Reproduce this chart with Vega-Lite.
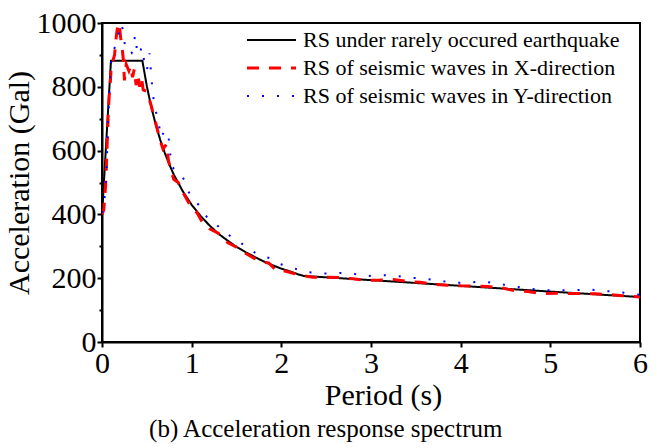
{
  "$schema": "https://vega.github.io/schema/vega-lite/v6.json",
  "width": 538,
  "height": 319,
  "autosize": {"type": "none"},
  "padding": {"left": 102, "top": 23, "right": 17, "bottom": 106},
  "background": "white",
  "config": {
    "view": {"stroke": "black", "strokeWidth": 2},
    "font": "Liberation Serif, Times New Roman, Times, serif",
    "axis": {
      "domainColor": "black", "domainWidth": 2, "tickColor": "black", "tickWidth": 2,
      "labelColor": "black", "titleColor": "black",
      "labelFont": "Liberation Serif, Times New Roman, Times, serif", "titleFont": "Liberation Serif, Times New Roman, Times, serif",
      "labelFontSize": 30, "titleFontSize": 30, "titleFontWeight": "normal",
      "grid": false, "labelOverlap": false, "labelFlush": false
    }
  },
  "title": {
    "text": "(b) Acceleration response spectrum",
    "orient": "bottom", "anchor": "middle", "frame": "bounds",
    "fontSize": 25, "font": "Liberation Serif, Times New Roman, Times, serif", "fontWeight": "normal", "color": "black", "offset": 7
  },
  "data": {"values": [
    {"s":"design","T":0,"a":397},{"s":"design","T":0.1,"a":882},{"s":"design","T":0.45,"a":882},
    {"s":"design","T":0.5,"a":802},{"s":"design","T":0.55,"a":736},{"s":"design","T":0.6,"a":681},
    {"s":"design","T":0.65,"a":633},{"s":"design","T":0.7,"a":593},{"s":"design","T":0.75,"a":557},
    {"s":"design","T":0.8,"a":525},{"s":"design","T":0.9,"a":473},{"s":"design","T":1.0,"a":430},
    {"s":"design","T":1.1,"a":395},{"s":"design","T":1.2,"a":365},{"s":"design","T":1.3,"a":339},
    {"s":"design","T":1.4,"a":318},{"s":"design","T":1.5,"a":298},{"s":"design","T":1.6,"a":282},
    {"s":"design","T":1.7,"a":267},{"s":"design","T":1.8,"a":253},{"s":"design","T":1.9,"a":241},
    {"s":"design","T":2.0,"a":230},{"s":"design","T":2.1,"a":221},{"s":"design","T":2.2,"a":211},
    {"s":"design","T":2.25,"a":207},{"s":"design","T":3,"a":194},{"s":"design","T":4,"a":176},
    {"s":"design","T":5,"a":158},{"s":"design","T":6,"a":141},

    {"s":"X","T":0,"a":400},{"s":"X","T":0.02,"a":415},{"s":"X","T":0.04,"a":490},{"s":"X","T":0.05,"a":560},
    {"s":"X","T":0.06,"a":640},{"s":"X","T":0.07,"a":720},{"s":"X","T":0.08,"a":770},{"s":"X","T":0.09,"a":800},
    {"s":"X","T":0.1,"a":850},{"s":"X","T":0.12,"a":880},{"s":"X","T":0.14,"a":900},{"s":"X","T":0.16,"a":960},
    {"s":"X","T":0.175,"a":990},{"s":"X","T":0.19,"a":1000},{"s":"X","T":0.21,"a":950},{"s":"X","T":0.225,"a":920},
    {"s":"X","T":0.24,"a":880},{"s":"X","T":0.25,"a":820},{"s":"X","T":0.27,"a":870},{"s":"X","T":0.3,"a":850},
    {"s":"X","T":0.32,"a":865},{"s":"X","T":0.34,"a":830},{"s":"X","T":0.36,"a":855},{"s":"X","T":0.38,"a":805},
    {"s":"X","T":0.4,"a":840},{"s":"X","T":0.42,"a":800},{"s":"X","T":0.44,"a":830},{"s":"X","T":0.46,"a":790},
    {"s":"X","T":0.5,"a":785},{"s":"X","T":0.55,"a":740},{"s":"X","T":0.58,"a":705},{"s":"X","T":0.6,"a":685},
    {"s":"X","T":0.65,"a":630},{"s":"X","T":0.68,"a":605},{"s":"X","T":0.72,"a":620},{"s":"X","T":0.74,"a":570},
    {"s":"X","T":0.76,"a":548},{"s":"X","T":0.8,"a":510},{"s":"X","T":0.85,"a":500},{"s":"X","T":0.9,"a":470},
    {"s":"X","T":0.95,"a":445},{"s":"X","T":1.0,"a":420},{"s":"X","T":1.06,"a":405},{"s":"X","T":1.12,"a":375},
    {"s":"X","T":1.2,"a":355},{"s":"X","T":1.3,"a":340},{"s":"X","T":1.4,"a":312},{"s":"X","T":1.5,"a":297},
    {"s":"X","T":1.6,"a":278},{"s":"X","T":1.7,"a":262},{"s":"X","T":1.8,"a":250},{"s":"X","T":1.86,"a":248},
    {"s":"X","T":1.94,"a":225},{"s":"X","T":2.0,"a":225},{"s":"X","T":2.1,"a":218},{"s":"X","T":2.2,"a":210},
    {"s":"X","T":2.35,"a":203},{"s":"X","T":2.5,"a":203},{"s":"X","T":2.65,"a":202},{"s":"X","T":2.8,"a":198},
    {"s":"X","T":2.95,"a":193},{"s":"X","T":3.1,"a":194},{"s":"X","T":3.25,"a":196},{"s":"X","T":3.4,"a":190},
    {"s":"X","T":3.55,"a":187},{"s":"X","T":3.7,"a":181},{"s":"X","T":3.85,"a":178},{"s":"X","T":4.0,"a":176},
    {"s":"X","T":4.15,"a":175},{"s":"X","T":4.3,"a":174},{"s":"X","T":4.45,"a":170},{"s":"X","T":4.6,"a":161},
    {"s":"X","T":4.75,"a":158},{"s":"X","T":4.9,"a":152},{"s":"X","T":5.05,"a":153},{"s":"X","T":5.2,"a":152},
    {"s":"X","T":5.35,"a":152},{"s":"X","T":5.5,"a":151},{"s":"X","T":5.65,"a":149},{"s":"X","T":5.8,"a":145},
    {"s":"X","T":6.0,"a":141},

    {"s":"Y","T":0,"a":405},{"s":"Y","T":0.02,"a":430},{"s":"Y","T":0.04,"a":480},{"s":"Y","T":0.05,"a":530},
    {"s":"Y","T":0.06,"a":620},{"s":"Y","T":0.07,"a":700},{"s":"Y","T":0.08,"a":770},{"s":"Y","T":0.09,"a":830},
    {"s":"Y","T":0.1,"a":870},{"s":"Y","T":0.11,"a":905},{"s":"Y","T":0.13,"a":915},{"s":"Y","T":0.145,"a":925},
    {"s":"Y","T":0.18,"a":960},{"s":"Y","T":0.2,"a":985},{"s":"Y","T":0.22,"a":998},{"s":"Y","T":0.25,"a":940},
    {"s":"Y","T":0.27,"a":915},{"s":"Y","T":0.29,"a":905},{"s":"Y","T":0.31,"a":905},{"s":"Y","T":0.33,"a":905},
    {"s":"Y","T":0.35,"a":930},{"s":"Y","T":0.37,"a":962},{"s":"Y","T":0.38,"a":950},{"s":"Y","T":0.39,"a":905},
    {"s":"Y","T":0.42,"a":900},{"s":"Y","T":0.44,"a":925},{"s":"Y","T":0.46,"a":895},{"s":"Y","T":0.48,"a":870},
    {"s":"Y","T":0.5,"a":850},{"s":"Y","T":0.53,"a":905},{"s":"Y","T":0.55,"a":830},{"s":"Y","T":0.57,"a":773},
    {"s":"Y","T":0.59,"a":727},{"s":"Y","T":0.61,"a":715},{"s":"Y","T":0.635,"a":681},{"s":"Y","T":0.66,"a":640},
    {"s":"Y","T":0.7,"a":665},{"s":"Y","T":0.74,"a":647},{"s":"Y","T":0.76,"a":598},{"s":"Y","T":0.77,"a":550},
    {"s":"Y","T":0.82,"a":540},{"s":"Y","T":0.87,"a":532},{"s":"Y","T":0.93,"a":501},{"s":"Y","T":0.98,"a":461},
    {"s":"Y","T":1.09,"a":426},{"s":"Y","T":1.15,"a":397},{"s":"Y","T":1.26,"a":371},{"s":"Y","T":1.38,"a":342},
    {"s":"Y","T":1.53,"a":313},{"s":"Y","T":1.62,"a":298},{"s":"Y","T":1.73,"a":275},{"s":"Y","T":1.88,"a":262},
    {"s":"Y","T":1.98,"a":245},{"s":"Y","T":2.12,"a":233},{"s":"Y","T":2.26,"a":220},{"s":"Y","T":2.43,"a":215},
    {"s":"Y","T":2.59,"a":215},{"s":"Y","T":2.76,"a":218},{"s":"Y","T":2.91,"a":206},{"s":"Y","T":3.07,"a":209},
    {"s":"Y","T":3.24,"a":209},{"s":"Y","T":3.41,"a":202},{"s":"Y","T":3.57,"a":199},{"s":"Y","T":3.74,"a":194},
    {"s":"Y","T":3.91,"a":185},{"s":"Y","T":4.08,"a":186},{"s":"Y","T":4.25,"a":190},{"s":"Y","T":4.41,"a":183},
    {"s":"Y","T":4.58,"a":175},{"s":"Y","T":4.75,"a":168},{"s":"Y","T":4.92,"a":162},{"s":"Y","T":5.09,"a":162},
    {"s":"Y","T":5.25,"a":162},{"s":"Y","T":5.42,"a":165},{"s":"Y","T":5.59,"a":160},{"s":"Y","T":5.76,"a":157},
    {"s":"Y","T":5.93,"a":150},{"s":"Y","T":6.0,"a":148}
  ]},
  "mark": {"type": "line", "clip": true},
  "encoding": {
    "x": {
      "field": "T", "type": "quantitative",
      "scale": {"domain": [0, 6], "nice": false},
      "axis": {
        "title": "Period (s)", "format": "d", "titleX": 281,
        "values": [0,0.5,1,1.5,2,2.5,3,3.5,4,4.5,5,5.5,6],
        "labelExpr": "datum.value % 1 === 0 ? datum.label : ''",
        "tickSize": {"condition": {"test": "datum.value % 1 === 0", "value": 5}, "value": 3},
        "labelPadding": 1, "titlePadding": 2
      }
    },
    "y": {
      "field": "a", "type": "quantitative",
      "scale": {"domain": [0, 1000], "nice": false},
      "axis": {
        "title": "Acceleration (Gal)", "format": "d",
        "values": [0,100,200,300,400,500,600,700,800,900,1000],
        "labelExpr": "datum.value % 200 === 0 ? datum.label : ''",
        "tickSize": {"condition": {"test": "datum.value % 200 === 0", "value": 5}, "value": 3},
        "labelPadding": 1, "titlePadding": 2
      }
    },
    "color": {
      "field": "s", "type": "nominal",
      "scale": {"domain": ["design", "X", "Y"], "range": ["#000000", "#ff0000", "#0000ff"]},
      "legend": {
        "title": null, "orient": "none", "legendX": 158.5, "legendY": 6,
        "labelExpr": "datum.value === 'design' ? 'RS under rarely occured earthquake' : datum.value === 'X' ? 'RS of seismic waves in X-direction' : 'RS of seismic waves in Y-direction'",
        "labelFont": "Liberation Serif, Times New Roman, Times, serif", "labelFontSize": 22, "labelColor": "black", "labelLimit": 0,
        "symbolType": "stroke", "symbolSize": 2401, "labelOffset": 20.5, "rowPadding": 6,
        "encode": {"symbols": {"update": {"strokeWidth": {"signal": "datum.value === 'X' ? 3 : 2"}}}}
      }
    },
    "strokeDash": {
      "field": "s", "type": "nominal",
      "scale": {"domain": ["design", "X", "Y"], "range": [[1, 0], [12, 10], [2, 13]]},
      "legend": {
        "title": null, "orient": "none", "legendX": 158.5, "legendY": 6,
        "labelExpr": "datum.value === 'design' ? 'RS under rarely occured earthquake' : datum.value === 'X' ? 'RS of seismic waves in X-direction' : 'RS of seismic waves in Y-direction'",
        "labelFont": "Liberation Serif, Times New Roman, Times, serif", "labelFontSize": 22, "labelColor": "black", "labelLimit": 0,
        "symbolType": "stroke", "symbolSize": 2401, "labelOffset": 20.5, "rowPadding": 6,
        "encode": {"symbols": {"update": {"strokeWidth": {"signal": "datum.value === 'X' ? 3 : 2"}}}}
      }
    },
    "strokeWidth": {"condition": {"test": "datum.s === 'X'", "value": 3}, "value": 2}
  }
}
